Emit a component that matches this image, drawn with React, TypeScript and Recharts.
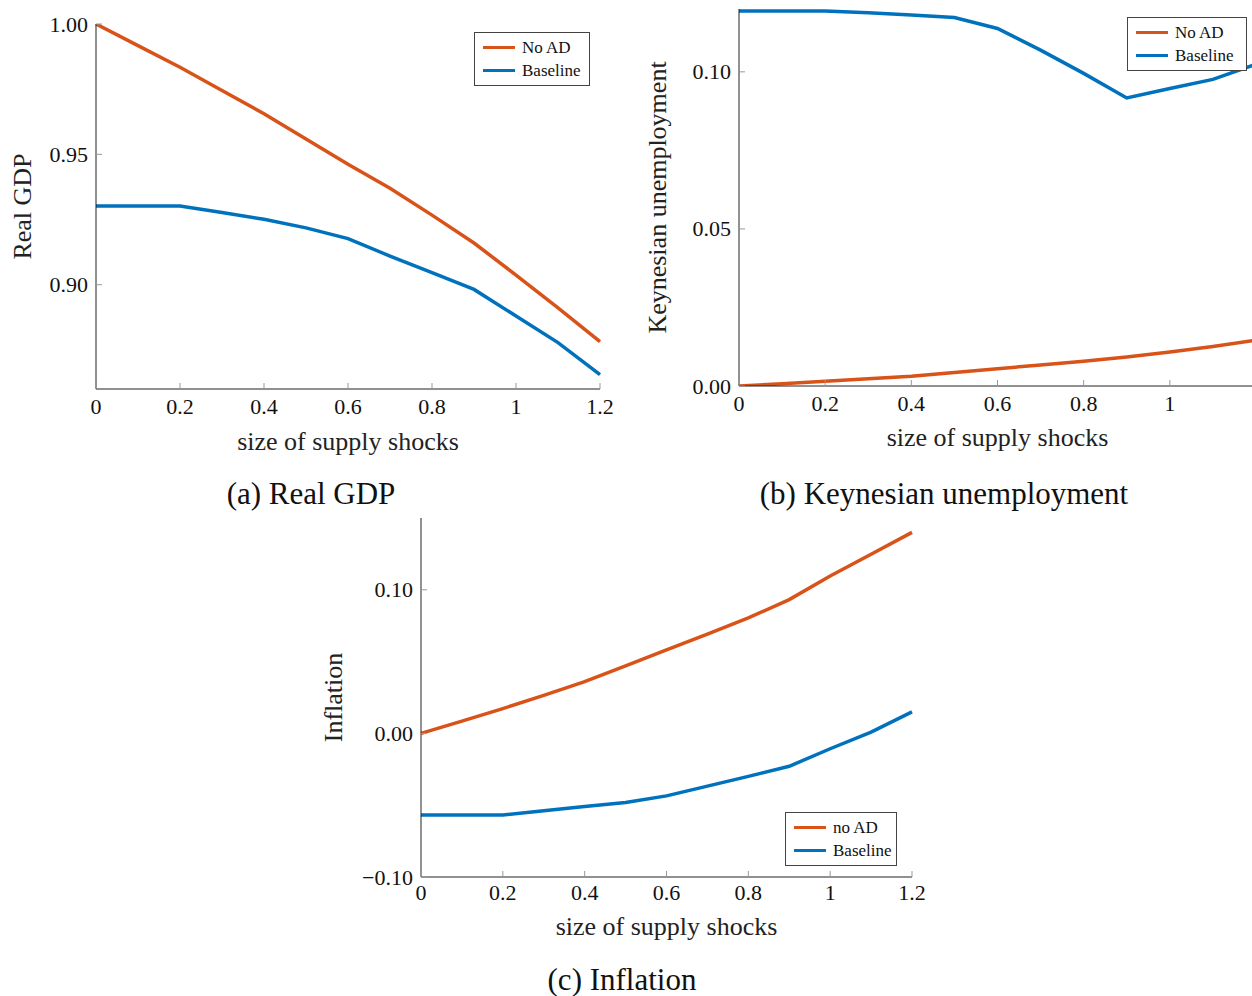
import React from 'react';
import { LineChart, Line, XAxis, YAxis, Legend } from 'recharts';

const FONT = '"Liberation Serif", "Times New Roman", serif';
const ORANGE = '#D95319';
const BLUE = '#0072BD';

// shock sizes on the x axis
const shocks = [0, 0.1, 0.2, 0.3, 0.4, 0.5, 0.6, 0.7, 0.8, 0.9, 1.0, 1.1, 1.2];

// (a) real GDP
const gdpNoAD = [1.0, 0.9917, 0.9834, 0.9745, 0.9656, 0.9559, 0.9462, 0.937, 0.9267, 0.916, 0.9037, 0.8911, 0.8782];
const gdpBaseline = [0.9302, 0.9302, 0.9302, 0.9277, 0.9251, 0.9218, 0.9177, 0.911, 0.9046, 0.8982, 0.888, 0.8778, 0.8655];

// (b) keynesian unemployment
const unempNoAD = [0, 0.0007, 0.0015, 0.0023, 0.0031, 0.0043, 0.0055, 0.0067, 0.0079, 0.0092, 0.0108, 0.0126, 0.0146];
const unempBaseline = [0.1194, 0.1194, 0.1194, 0.1188, 0.1181, 0.1173, 0.1138, 0.1069, 0.0995, 0.0917, 0.0947, 0.0976, 0.1024];

// (c) inflation
const inflNoAD = [0, 0.0085, 0.0173, 0.0265, 0.036, 0.047, 0.0582, 0.0692, 0.0804, 0.0932, 0.1096, 0.1248, 0.14];
const inflBaseline = [-0.0568, -0.0568, -0.0568, -0.0538, -0.0509, -0.0481, -0.0435, -0.0367, -0.0299, -0.0229, -0.0107, 0.0009, 0.015];

const xTicks = [0, 0.2, 0.4, 0.6, 0.8, 1, 1.2];

const rows = (a: number[], b: number[]) => shocks.map((x, i) => ({ x, noAD: a[i], baseline: b[i] }));

const fmtX = (v: number) => String(v);
const fmtY = (v: number) => (v < 0 ? '\u2212' + Math.abs(v).toFixed(2) : v.toFixed(2));

const XTick = (props: any) => {
  const { x, y, payload, gap } = props;
  return (
    <g>
      <line x1={x} x2={x} y1={y} y2={y - 6} stroke="#999" strokeWidth={1} />
      <text x={x} y={y + gap} textAnchor="middle" dominantBaseline="central" fontFamily={FONT} fontSize={22} fill="#111">
        {fmtX(payload.value)}
      </text>
    </g>
  );
};

const YTick = (props: any) => {
  const { x, y, payload } = props;
  return (
    <g>
      <line x1={x} x2={x + 6} y1={y} y2={y} stroke="#999" strokeWidth={1} />
      <text x={x - 8} y={y} textAnchor="end" dominantBaseline="central" fontFamily={FONT} fontSize={22} fill="#111">
        {fmtY(payload.value)}
      </text>
    </g>
  );
};

// keep "no AD" above "Baseline" like the original legend
const order = (k: string) => (k === 'noAD' ? 0 : 1);

const LegendBox = ({ payload, width }: any) => (
  <div
    style={{
      width,
      boxSizing: 'border-box',
      border: '1px solid #444',
      background: '#fff',
      padding: '3px 4px 3px 8px',
      fontFamily: FONT,
      fontSize: 17,
      lineHeight: '23px',
      color: '#111',
    }}
  >
    {[...(payload || [])]
      .sort((a: any, b: any) => order(a.dataKey) - order(b.dataKey))
      .map((p: any) => (
        <div key={p.value} style={{ display: 'flex', alignItems: 'center' }}>
          <span style={{ display: 'inline-block', width: 32, height: 3.5, background: p.color, marginRight: 7 }} />
          {p.value}
        </div>
      ))}
  </div>
);

interface PanelProps {
  left: number;
  top: number;
  width: number;
  height: number;
  margin: { top: number; right: number; bottom: number; left: number };
  yWidth: number;
  data: any[];
  yDomain: [number, number];
  yTicks: number[];
  xTickList: number[];
  xTickGap: number;
  yLabel: string;
  yLabelOffset: number;
  xLabelOffset: number;
  legendPos: { left: number; top: number; width: number };
  noADName: string;
}

function Panel(p: PanelProps) {
  return (
    <div style={{ position: 'absolute', left: p.left, top: p.top }}>
      <LineChart width={p.width} height={p.height} data={p.data} margin={p.margin}>
        <XAxis
          type="number"
          dataKey="x"
          domain={[0, 1.2]}
          ticks={p.xTickList}
          interval={0}
          height={60}
          tickSize={0}
          tickMargin={0}
          tickLine={false}
          axisLine={{ stroke: '#222', strokeWidth: 1 }}
          tick={(t: any) => <XTick {...t} gap={p.xTickGap} />}
          label={{
            value: 'size of supply shocks',
            position: 'insideBottom',
            offset: p.xLabelOffset,
            fontFamily: FONT,
            fontSize: 26,
            fill: '#222',
          }}
        />
        <YAxis
          type="number"
          domain={p.yDomain}
          ticks={p.yTicks}
          interval={0}
          width={p.yWidth}
          allowDataOverflow
          tickSize={0}
          tickMargin={0}
          tickLine={false}
          axisLine={{ stroke: '#222', strokeWidth: 1 }}
          tick={(t: any) => <YTick {...t} />}
          label={{
            value: p.yLabel,
            angle: -90,
            position: 'insideLeft',
            offset: p.yLabelOffset,
            fontFamily: FONT,
            fontSize: 26,
            fill: '#222',
            style: { textAnchor: 'middle' },
          }}
        />
        <Legend
          layout="vertical"
          align="center"
          verticalAlign="middle"
          wrapperStyle={{ left: p.legendPos.left, top: p.legendPos.top, width: 'auto', height: 'auto' }}
          content={(lp: any) => <LegendBox {...lp} width={p.legendPos.width} />}
        />
        <Line type="linear" dataKey="noAD" name={p.noADName} stroke={ORANGE} strokeWidth={3.5} dot={false} isAnimationActive={false} />
        <Line type="linear" dataKey="baseline" name="Baseline" stroke={BLUE} strokeWidth={3.5} dot={false} isAnimationActive={false} />
      </LineChart>
    </div>
  );
}

const captionStyle = (cx: number, cy: number): React.CSSProperties => ({
  position: 'absolute',
  left: cx - 300,
  top: cy - 20,
  width: 600,
  height: 40,
  lineHeight: '40px',
  textAlign: 'center',
  fontFamily: FONT,
  fontSize: 31,
  color: '#111',
});

export default function App() {
  return (
    <div style={{ position: 'absolute', left: 0, top: 0, width: 1252, height: 996, overflow: 'hidden', background: '#fff' }}>
      <Panel
        left={0}
        top={0}
        width={640}
        height={470}
        margin={{ top: 24, right: 40, bottom: 21, left: 0 }}
        yWidth={96}
        data={rows(gdpNoAD, gdpBaseline)}
        yDomain={[0.86, 1.0]}
        yTicks={[0.9, 0.95, 1.0]}
        xTickList={xTicks}
        xTickGap={17}
        yLabel="Real GDP"
        yLabelOffset={22}
        xLabelOffset={-1}
        legendPos={{ left: 474, top: 32, width: 116 }}
        noADName="No AD"
      />
      <Panel
        left={630}
        top={0}
        width={640}
        height={470}
        margin={{ top: 9, right: 14, bottom: 24, left: 0 }}
        yWidth={109}
        data={rows(unempNoAD, unempBaseline)}
        yDomain={[0, 0.12]}
        yTicks={[0, 0.05, 0.1]}
        xTickList={[0, 0.2, 0.4, 0.6, 0.8, 1]}
        xTickGap={17}
        yLabel="Keynesian unemployment"
        yLabelOffset={27}
        xLabelOffset={0}
        legendPos={{ left: 497, top: 17, width: 120 }}
        noADName="No AD"
      />
      <Panel
        left={310}
        top={500}
        width={640}
        height={470}
        margin={{ top: 18, right: 38, bottom: 33, left: 0 }}
        yWidth={111}
        data={rows(inflNoAD, inflBaseline)}
        yDomain={[-0.1, 0.15]}
        yTicks={[-0.1, 0, 0.1]}
        xTickList={xTicks}
        xTickGap={15}
        yLabel="Inflation"
        yLabelOffset={23}
        xLabelOffset={2}
        legendPos={{ left: 475, top: 312, width: 112 }}
        noADName="no AD"
      />
      <div style={captionStyle(311, 494)}>(a) Real GDP</div>
      <div style={captionStyle(944, 494)}>(b) Keynesian unemployment</div>
      <div style={captionStyle(622, 980)}>(c) Inflation</div>
    </div>
  );
}
